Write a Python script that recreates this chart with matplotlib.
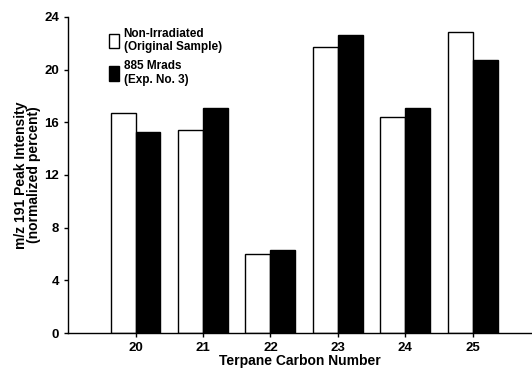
import matplotlib
matplotlib.use("Agg")
import matplotlib.pyplot as plt
from matplotlib.patches import Patch

carbon = [20, 21, 22, 23, 24, 25]
non_irradiated = [16.7, 15.4, 6.0, 21.7, 16.4, 22.85]
irradiated_885 = [15.25, 17.1, 6.3, 22.6, 17.1, 20.7]
yticks = [0, 4, 8, 12, 16, 20, 24]

plt.rcParams['font.family'] = ['Liberation Sans', 'DejaVu Sans']
plt.rcParams['font.weight'] = 'bold'

fig = plt.figure(figsize=(5.32, 3.68), dpi=100)
ax = fig.add_axes([0.128, 0.095, 0.872, 0.859])

w = 0.37
ax.bar([c - w / 2 for c in carbon], non_irradiated, width=w, color='white', edgecolor='black', linewidth=1.0)
ax.bar([c + w / 2 for c in carbon], irradiated_885, width=w, color='black', edgecolor='black', linewidth=1.0)

ax.set_xlim(19, 25.88)
ax.set_ylim(0, 24)
ax.set_yticks(yticks)
ax.set_xticks(carbon)
ax.tick_params(axis='both', labelsize=9.5, length=3, width=1, direction='out')
for s in ['top', 'right']:
    ax.spines[s].set_visible(False)
ax.spines['left'].set_linewidth(1)
ax.spines['bottom'].set_linewidth(1)

ax.set_xlabel("Terpane Carbon Number", fontsize=10, fontweight='bold', labelpad=0)
ax.set_ylabel("m/z 191 Peak Intensity\n(normalized percent)", fontsize=10, fontweight='bold', labelpad=2, linespacing=0.95)

handles = [Patch(facecolor='white', edgecolor='black', linewidth=1),
           Patch(facecolor='black', edgecolor='black')]
labels = ["Non-Irradiated\n(Original Sample)", "885 Mrads\n(Exp. No. 3)"]
ax.legend(handles, labels, loc='upper left', bbox_to_anchor=(0.065, 1.0), frameon=False,
          handlelength=0.9, handleheight=1.5, handletextpad=0.35,
          labelspacing=0.55, prop={'weight': 'bold', 'size': 8.5})

fig.savefig("out.png", dpi=100)
